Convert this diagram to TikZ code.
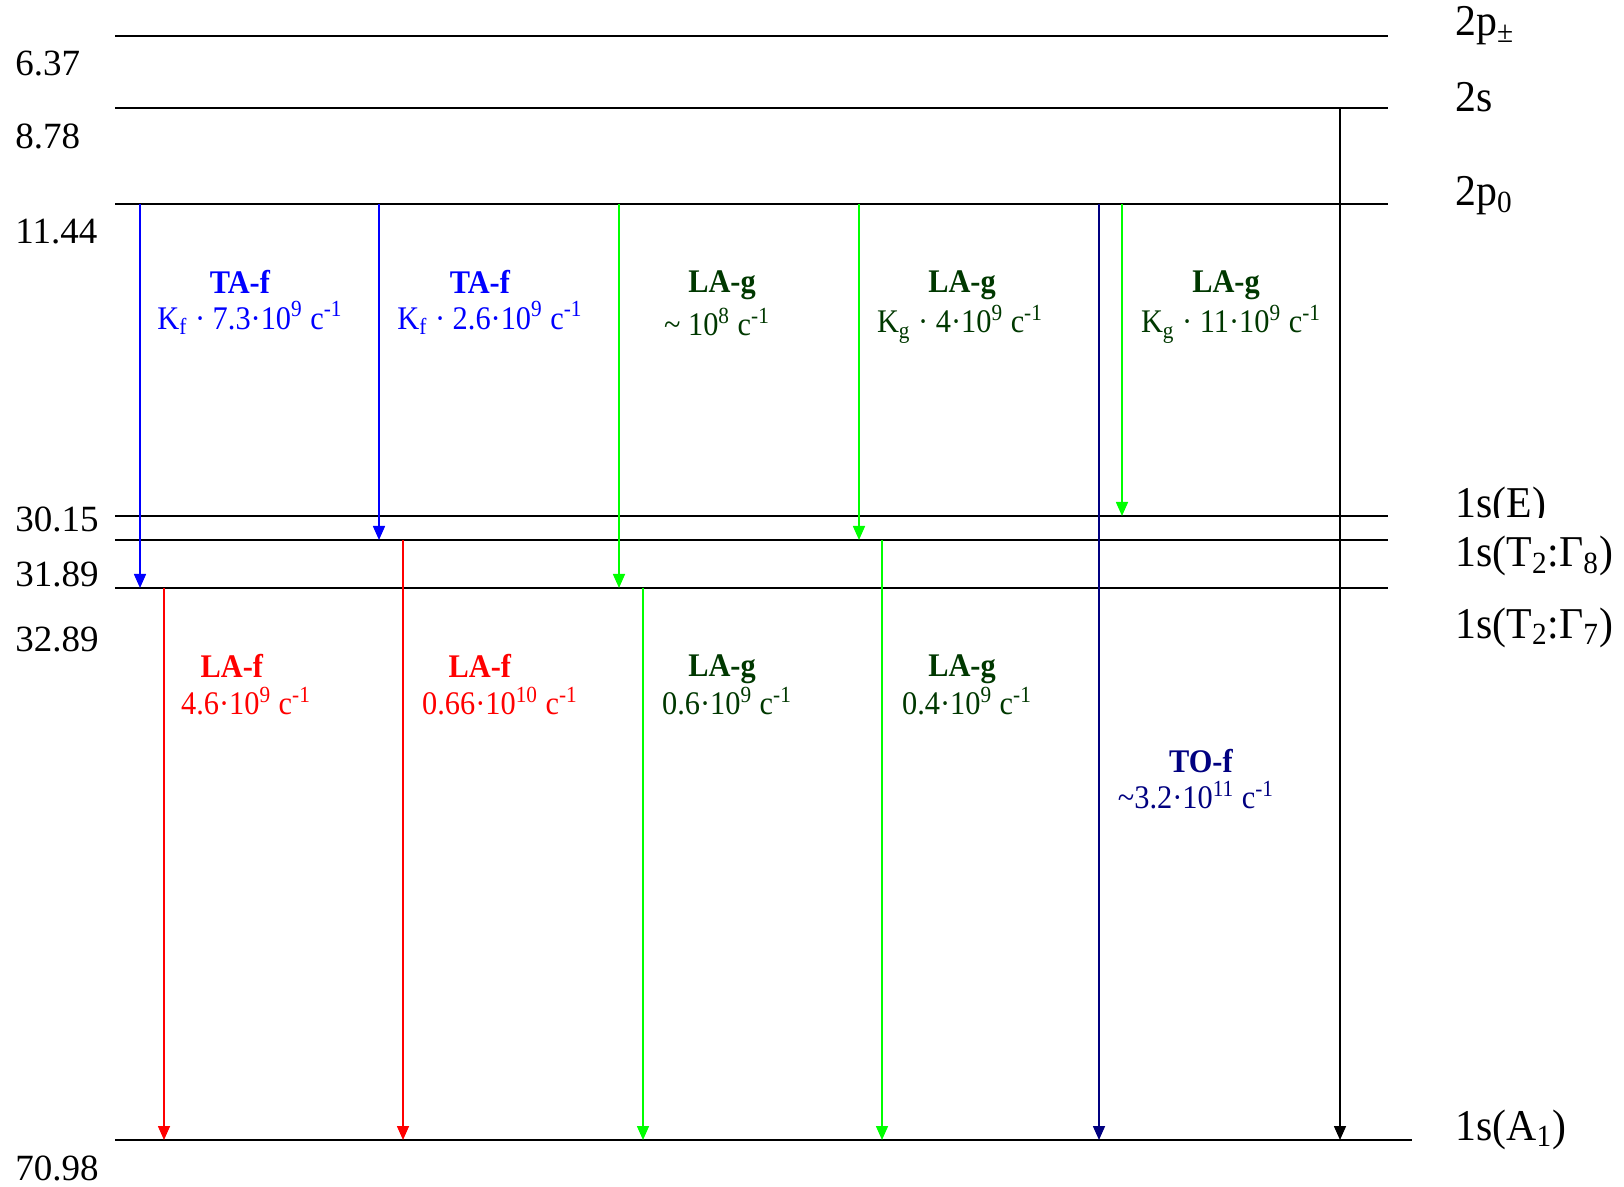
\documentclass[tikz,border=0pt]{standalone}
\usepackage{fontspec}
\setmainfont{Liberation Serif}
\newfontfamily\condfont[FakeStretch=0.92]{Liberation Serif}
\newfontfamily\statefont[FakeStretch=0.95]{Liberation Serif}
\usetikzlibrary{arrows.meta}
\definecolor{lblue}{RGB}{0,0,255}
\definecolor{lgreen}{RGB}{0,255,0}
\definecolor{dgreen}{RGB}{0,56,0}
\definecolor{lred}{RGB}{255,0,0}
\definecolor{lnavy}{RGB}{0,0,128}
\newcommand{\supx}[1]{\textsuperscript{#1}}
\newcommand{\subx}[1]{\textsubscript{#1}}
\begin{document}
\begin{tikzpicture}[x=0.5pt,y=-0.5pt,
  level/.style={line width=1pt},
  trans/.style={line width=0.8pt,-{Triangle[length=7pt,width=6pt]}},
  lab/.style={font=\condfont\fontsize{16.5}{18}\selectfont,align=center,inner sep=0pt},
  num/.style={font=\fontsize{18.5}{20}\selectfont,anchor=west,inner sep=0pt},
  state/.style={font=\statefont\fontsize{22}{24}\selectfont,anchor=west,inner sep=0pt}]
\useasboundingbox (0,0) rectangle (1624,1187);
% levels
\coordinate (Lpm) at (115,36);   \coordinate (Rpm) at (1388,36);
\coordinate (L2s) at (115,108);  \coordinate (R2s) at (1388,108);
\coordinate (L2p) at (115,204);  \coordinate (R2p) at (1388,204);
\coordinate (LE) at (115,516);   \coordinate (RE) at (1388,516);
\coordinate (L8) at (115,540);   \coordinate (R8) at (1388,540);
\coordinate (L7) at (115,588);   \coordinate (R7) at (1388,588);
\coordinate (LA) at (115,1140);  \coordinate (RA) at (1412,1140);
\foreach \a/\b in {Lpm/Rpm,L2s/R2s,L2p/R2p,LE/RE,L8/R8,L7/R7,LA/RA}
  \draw[level] (\a) -- (\b);
% left numbers
\node[num] (n1) at (15,64) {6.37};
\node[num] (n2) at (15,136) {8.78};
\node[num] (n3) at (15,232) {11.44};
\node[num] (n4) at (15,519) {30.15};
\node[num] (n5) at (15,574) {31.89};
\node[num] (n6) at (15,639) {32.89};
\node[num] (n7) at (15,1168) {70.98};
% right state labels
\node[state] (s1) at (1455,26) {2p\subx{±}};
\node[state] (s2) at (1455,97) {2s};
\node[state] (s3) at (1455,196) {2p\subx{0}};
\node[state] (s4) at (1455,507) {1s(E)};
\node[state,anchor=base west,fill=white,text height=24.5pt,text depth=5pt] (s5) at (1455,567) {1s(T\subx{2}:Γ\subx{8})};
\node[state] (s6) at (1455,628) {1s(T\subx{2}:Γ\subx{7})};
\node[state] (s7) at (1455,1130) {1s(A\subx{1})};
% transition endpoints
\coordinate (a1s) at (140,204);  \coordinate (a1e) at (140,588);
\coordinate (a2s) at (379,204);  \coordinate (a2e) at (379,540);
\coordinate (a3s) at (619,204);  \coordinate (a3e) at (619,588);
\coordinate (a4s) at (859,204);  \coordinate (a4e) at (859,540);
\coordinate (a5s) at (1099,204); \coordinate (a5e) at (1099,1140);
\coordinate (a6s) at (1122,204); \coordinate (a6e) at (1122,516);
\coordinate (a7s) at (1340,108); \coordinate (a7e) at (1340,1140);
\coordinate (b1s) at (164,588);  \coordinate (b1e) at (164,1140);
\coordinate (b2s) at (403,540);  \coordinate (b2e) at (403,1140);
\coordinate (b3s) at (643,588);  \coordinate (b3e) at (643,1140);
\coordinate (b4s) at (882,540);  \coordinate (b4e) at (882,1140);
\draw[trans,lblue] (a1s) -- (a1e);
\draw[trans,lblue] (a2s) -- (a2e);
\draw[trans,lgreen] (a3s) -- (a3e);
\draw[trans,lgreen] (a4s) -- (a4e);
\draw[trans,lnavy] (a5s) -- (a5e);
\draw[trans,lgreen] (a6s) -- (a6e);
\draw[trans,black] (a7s) -- (a7e);
\draw[trans,lred] (b1s) -- (b1e);
\draw[trans,lred] (b2s) -- (b2e);
\draw[trans,lgreen] (b3s) -- (b3e);
\draw[trans,lgreen] (b4s) -- (b4e);
% transition labels
\node[lab,lblue] (t1a) at (240,282) {\textbf{TA-f}};
\node[lab,lblue] (t1b) at (250,318) {K\subx{f} · 7.3·10\supx{9} c\supx{-1}};
\node[lab,lblue] (t2a) at (480,282) {\textbf{TA-f}};
\node[lab,lblue] (t2b) at (490,318) {K\subx{f} · 2.6·10\supx{9} c\supx{-1}};
\node[lab,dgreen] (t3a) at (722,285) {\textbf{LA-g}};
\node[lab,dgreen] (t3b) at (717,322) {\textasciitilde{} 10\supx{8} c\supx{-1}};
\node[lab,dgreen] (t4a) at (962,285) {\textbf{LA-g}};
\node[lab,dgreen] (t4b) at (960,324) {K\subx{g} · 4·10\supx{9} c\supx{-1}};
\node[lab,dgreen] (t5a) at (1226,285) {\textbf{LA-g}};
\node[lab,dgreen] (t5b) at (1231,324) {K\subx{g} · 11·10\supx{9} c\supx{-1}};
\node[lab,lred] (u1a) at (232,666) {\textbf{LA-f}};
\node[lab,lred] (u1b) at (246,701) {4.6·10\supx{9} c\supx{-1}};
\node[lab,lred] (u2a) at (480,666) {\textbf{LA-f}};
\node[lab,lred] (u2b) at (500,701) {0.66·10\supx{10} c\supx{-1}};
\node[lab,dgreen] (u3a) at (722,669) {\textbf{LA-g}};
\node[lab,dgreen] (u3b) at (727,701) {0.6·10\supx{9} c\supx{-1}};
\node[lab,dgreen] (u4a) at (962,669) {\textbf{LA-g}};
\node[lab,dgreen] (u4b) at (967,701) {0.4·10\supx{9} c\supx{-1}};
\node[lab,lnavy] (u5a) at (1201,761) {\textbf{TO-f}};
\node[lab,lnavy] (u5b) at (1196,795) {\textasciitilde 3.2·10\supx{11} c\supx{-1}};
\end{tikzpicture}
\end{document}
